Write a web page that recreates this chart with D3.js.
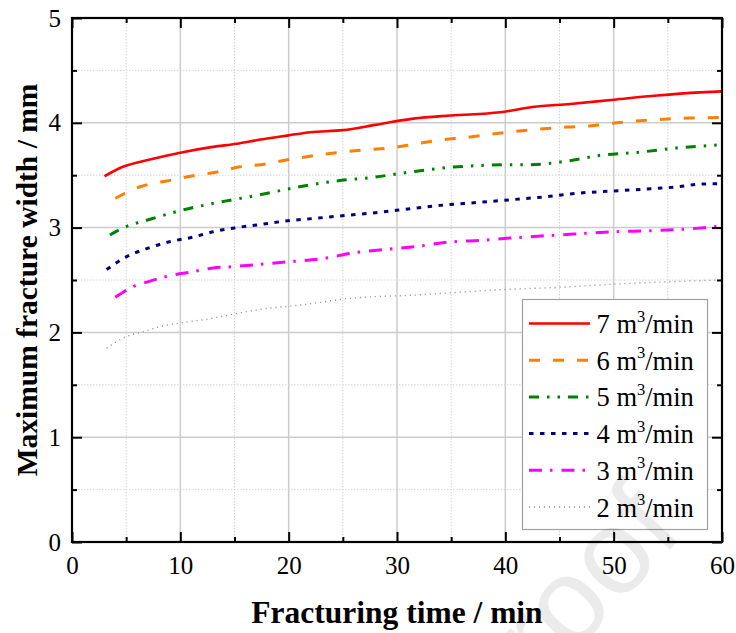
<!DOCTYPE html>
<html><head><meta charset="utf-8">
<script src="https://cdn.jsdelivr.net/npm/d3@7"></script>
<style>body{margin:0;background:#fff}svg{display:block}text{font-family:"Liberation Serif","Times New Roman",Tinos,Times,serif}</style>
</head><body><svg id="c" width="736" height="633"></svg>
<script>
const xTicks=[0,10,20,30,40,50,60];
const yTicks=[0,1,2,3,4,5];
const seriesNames=["7","6","5","4","3","2"];
const t7=[3,4.7,7.2,10,13,15.2,17.4,20,22,25,28,31.5,35,39.5,42.5,46,50,54,58,60];
const w7=[3.49,3.58,3.65,3.715,3.77,3.80,3.84,3.88,3.91,3.93,3.98,4.04,4.07,4.10,4.15,4.18,4.22,4.26,4.29,4.30];
const t6=[4,6.3,9,11.2,13.4,15.5,17.4,20.1,24.4,26.9,29.4,31.8,34,36.4,38.6,40.7,43.2,45.7,47.8,50.3,52.4,54.9,57,60];
const w6=[3.28,3.39,3.45,3.495,3.53,3.58,3.60,3.65,3.715,3.74,3.76,3.80,3.836,3.86,3.89,3.915,3.94,3.96,3.97,4.00,4.02,4.036,4.045,4.05];
const t5=[3.5,5,6.9,10.3,14,17.2,21,24.4,27.8,31.2,34.9,38.3,40.4,42,45.4,48.8,52.4,55.8,60];
const w5=[2.93,3.01,3.07,3.17,3.25,3.31,3.39,3.445,3.48,3.53,3.575,3.595,3.60,3.60,3.63,3.69,3.72,3.76,3.79];
const t4=[3.2,5,6.9,9,11.2,13,15.2,17.4,19.5,22.6,25.7,28.7,31.2,34.3,37.4,39.8,43.8,46.9,50,53.4,55.5,58,60];
const w4=[2.60,2.72,2.80,2.865,2.91,2.96,3.00,3.03,3.06,3.09,3.12,3.15,3.18,3.215,3.24,3.26,3.295,3.33,3.35,3.37,3.385,3.415,3.42];
const t3=[4,5.7,6.9,9.4,11.2,12.7,15.2,17.4,20.1,23.5,25.7,28.7,31.8,34.6,38,40.4,45,50,53.4,57.3,60];
const w3=[2.335,2.44,2.48,2.55,2.58,2.61,2.63,2.65,2.675,2.71,2.755,2.79,2.82,2.86,2.88,2.90,2.93,2.96,2.97,2.99,3.015];
const t2=[3.2,5,6.6,8.1,10,12.7,15.2,17.4,21,25.7,31.8,40,45,50,54.3,60];
const w2=[1.85,1.96,2.007,2.055,2.09,2.13,2.18,2.22,2.26,2.325,2.357,2.41,2.43,2.46,2.48,2.50];

const series=[
 {name:"7",t:t7,w:w7,color:"#ff0000",dash:null,width:2.6},
 {name:"6",t:t6,w:w6,color:"#ff8000",dash:"11,13",width:3},
 {name:"5",t:t5,w:w5,color:"#008000",dash:"10,8,2.5,8,2.5,8",width:3},
 {name:"4",t:t4,w:w4,color:"#000080",dash:"4.5,6.5",width:3},
 {name:"3",t:t3,w:w3,color:"#ff00ff",dash:"13,8,2.5,9",width:3},
 {name:"2",t:t2,w:w2,color:"#8a8a8a",dash:"1,4",width:1.4}
];

const svg=d3.select("#c");
const L=72,R=722,T=18,B=542;
const x=d3.scaleLinear().domain([0,60]).range([L,R]);
const y=d3.scaleLinear().domain([0,5]).range([B,T]);

const g=svg.append("g");
// grid
const minorX=d3.range(5,60,10), minorY=d3.range(0.5,5,1);
g.selectAll(".gmx").data(minorX).join("line").attr("x1",d=>x(d)).attr("x2",d=>x(d)).attr("y1",T).attr("y2",B)
 .attr("stroke","#d4d4d4").attr("stroke-width",1).attr("stroke-dasharray","1.5,1.5");
g.selectAll(".gmy").data(minorY).join("line").attr("y1",d=>y(d)).attr("y2",d=>y(d)).attr("x1",L).attr("x2",R)
 .attr("stroke","#d4d4d4").attr("stroke-width",1).attr("stroke-dasharray","1.5,1.5");
g.selectAll(".gx").data(xTicks.slice(1,-1)).join("line").attr("x1",d=>x(d)).attr("x2",d=>x(d)).attr("y1",T).attr("y2",B)
 .attr("stroke","#cccccc").attr("stroke-width",1.5);
g.selectAll(".gy").data(yTicks.slice(1,-1)).join("line").attr("y1",d=>y(d)).attr("y2",d=>y(d)).attr("x1",L).attr("x2",R)
 .attr("stroke","#cccccc").attr("stroke-width",1.5);

// series
const line=d3.line().x(d=>x(d[0])).y(d=>y(d[1])).curve(d3.curveMonotoneX);
series.forEach(s=>{
 const pts=s.t.map((v,i)=>[v,s.w[i]]);
 svg.append("path").attr("d",line(pts)).attr("fill","none").attr("stroke",s.color)
  .attr("stroke-width",s.width).attr("stroke-dasharray",s.dash);
});

// axes
const ax=svg.append("g");
function ticks(axisGen, tr){
 const a=ax.append("g").attr("transform",tr).call(axisGen);
 a.select(".domain").remove();
 a.selectAll("line").attr("stroke","#000").attr("stroke-width",2);
 return a;
}
const tickFmt=d3.format("d");
const bx=ticks(d3.axisBottom(x).tickValues(xTicks).tickSize(-10).tickPadding(14).tickFormat(tickFmt),`translate(0,${B})`);
bx.selectAll("text").attr("font-size",25).attr("fill","#000");
ticks(d3.axisBottom(x).tickValues(minorX).tickSize(-5).tickFormat(""),`translate(0,${B})`);
ticks(d3.axisTop(x).tickValues(xTicks).tickSize(-10).tickFormat(""),`translate(0,${T})`);
ticks(d3.axisTop(x).tickValues(minorX).tickSize(-5).tickFormat(""),`translate(0,${T})`);
const ly=ticks(d3.axisLeft(y).tickValues(yTicks).tickSize(-10).tickPadding(11).tickFormat(tickFmt),`translate(${L},0)`);
ly.selectAll("text").attr("font-size",25).attr("fill","#000");
ticks(d3.axisLeft(y).tickValues(minorY).tickSize(-5).tickFormat(""),`translate(${L},0)`);
ticks(d3.axisRight(y).tickValues(yTicks).tickSize(-10).tickFormat(""),`translate(${R},0)`);
ticks(d3.axisRight(y).tickValues(minorY).tickSize(-5).tickFormat(""),`translate(${R},0)`);
svg.append("rect").attr("x",L).attr("y",T).attr("width",R-L).attr("height",B-T)
 .attr("fill","none").attr("stroke","#000").attr("stroke-width",2.2);

// titles
svg.append("text").attr("x",(L+R)/2).attr("y",623).attr("text-anchor","middle")
 .attr("font-size",31.5).attr("font-weight","bold").text("Fracturing time / min");
svg.append("text").attr("transform",`translate(37,${(T+B)/2}) rotate(-90)`).attr("text-anchor","middle")
 .attr("font-size",29.5).attr("font-weight","bold").text("Maximum fracture width / mm");

// legend
const lg=svg.append("g");
lg.append("rect").attr("x",522.5).attr("y",299.5).attr("width",185).attr("height",230)
 .attr("fill","#fff").attr("stroke","#a0a0a0").attr("stroke-width",1.2);
series.forEach((s,i)=>{
 const yy=323.5+i*36.7;
 lg.append("line").attr("x1",529).attr("x2",590).attr("y1",yy).attr("y2",yy)
  .attr("stroke",s.color).attr("stroke-width",s.width).attr("stroke-dasharray",s.dash);
 const tx=lg.append("text").attr("x",596.5).attr("y",yy+9.5).attr("font-size",26.5);
 tx.append("tspan").text(s.name+" m");
 tx.append("tspan").attr("font-size",16.5).attr("dy",-11.5).text("3");
 tx.append("tspan").attr("dy",11.5).text("/min");
});

// watermark (drawn on top, faint)
svg.append("text").attr("transform","translate(490,743) rotate(-47)")
 .attr("font-size",120).attr("fill","#000").attr("fill-opacity",0.08)
 .style("font-family","'Liberation Sans',Arial,sans-serif").text("Proof");
</script></body></html>
